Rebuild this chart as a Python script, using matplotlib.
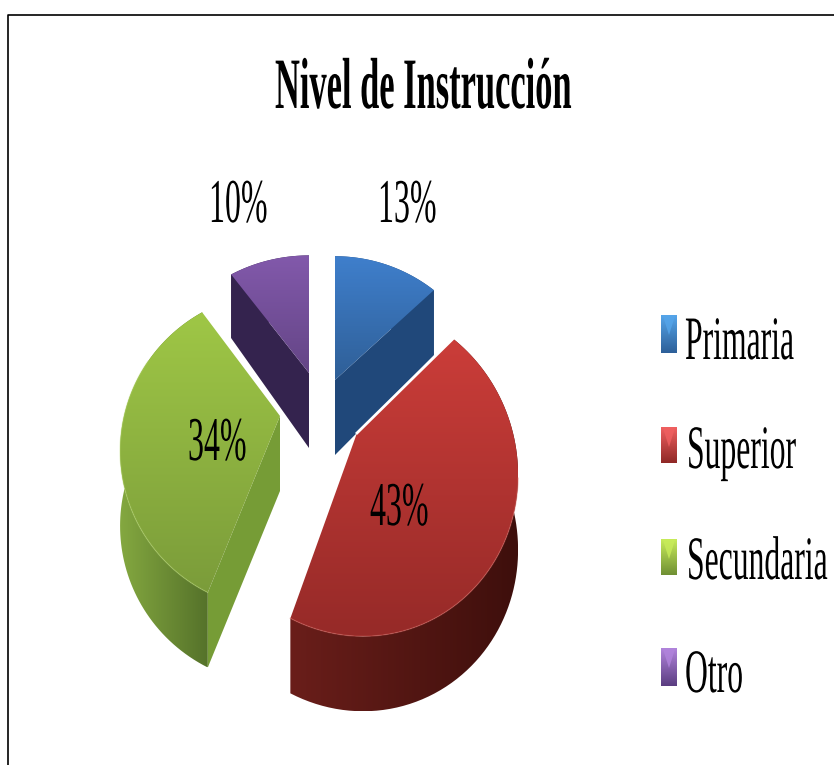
import numpy as np
import matplotlib
matplotlib.use('Agg')
import matplotlib.pyplot as plt
from matplotlib.colors import LinearSegmentedColormap
from matplotlib.patches import Polygon
from matplotlib.patheffects import AbstractPathEffect
from matplotlib.transforms import Affine2D

plt.rcParams['font.family'] = ['Liberation Serif', 'DejaVu Serif']

title = 'Nivel de Instrucción'
categories = ['Primaria', 'Superior', 'Secundaria', 'Otro']
values = [13, 43, 34, 10]

# slice looks, same order as categories
apex = [(335, 380), (357, 433), (280, 416), (309, 373)]
tall = [1.0, 1.05, 1.0, 0.95]
skew = [0, 0.03, 0, 0]
top_cols = [('#3f7fcc', '#2f5f97'), ('#cb3d39', '#962a28'),
            ('#9fc746', '#7b9c3a'), ('#8259ab', '#644586')]
wall_cols = [('#20487a', '#20487a'), ('#6a1e1a', '#3e0f0c'),
             ('#84a840', '#55722a'), ('#34234e', '#34234e')]
face_cols = ['#20487a', None, '#769c36', '#34234e']
face_edge = ['end', None, 'start', 'start']
key_cols = [('#55a5ea', '#2d5f98'), ('#f06060', '#8f2826'),
            ('#c8ec5a', '#6f8f34'), ('#b184dc', '#5a3d80')]
pct_pos = [(378, 222), (370, 525), (188, 460), (209, 222)]
key_y = [(315, 353), (427, 463), (539, 575), (648, 686)]
key_text = [(685, 359), (687, 468), (687, 579), (685, 692)]

rx, ry, persp, depth = 156, 151, 0.22, 75


class Stretch(AbstractPathEffect):
    # the original picture was squeezed, letters are tall and narrow
    def __init__(self, sy):
        super().__init__()
        self.sy = sy

    def draw_path(self, renderer, gc, tpath, affine, rgbFace=None):
        renderer.draw_path(gc, tpath, Affine2D().scale(1, self.sy) + affine, rgbFace)


def rim(i, a0, a1, n=80):
    t = np.radians(np.linspace(a0, a1, n))
    u, v = np.sin(t), np.cos(t)
    w = 1 + persp * v
    dy = -ry * tall[i] * v / w
    return np.column_stack([apex[i][0] + rx * u / w + skew[i] * dy, apex[i][1] + dy]), v


def drop(pts, v):
    return pts + np.column_stack([np.zeros(len(pts)), depth / (1 + persp * np.maximum(v, 0))])


def shade(verts, c0, c1, z, horizontal=False):
    poly = Polygon(verts, closed=True, fc='none', ec='none', zorder=z)
    ax.add_patch(poly)
    x0, y0 = verts.min(axis=0)
    x1, y1 = verts.max(axis=0)
    grad = np.linspace(0, 1, 256)
    grad = grad[None, :] if horizontal else grad[:, None]
    cmap = LinearSegmentedColormap.from_list('s', [c0, c1])
    im = ax.imshow(grad, extent=(x0, x1, y1, y0), cmap=cmap, aspect='auto',
                   interpolation='bilinear', zorder=z)
    im.set_clip_path(poly)


fig = plt.figure(figsize=(8.34, 7.65), dpi=100)
ax = fig.add_axes([0, 0, 1, 1])

ends = np.cumsum(values) / np.sum(values) * 360
starts = np.concatenate([[0], ends[:-1]])

z = 2
for i in [3, 0, 2, 1]:
    edge, v = rim(i, starts[i], ends[i])
    low = drop(edge, v)
    shade(np.vstack([edge, low[::-1]]), wall_cols[i][0], wall_cols[i][1], z, horizontal=True)
    z += 1
    if face_cols[i]:
        k = 0 if face_edge[i] == 'start' else -1
        base = np.array(apex[i], dtype=float)
        face = np.array([base, edge[k], low[k], base + [0, depth]])
        ax.add_patch(Polygon(face, closed=True, fc=face_cols[i], ec='none', zorder=z))
        z += 1
    outline = np.vstack([[apex[i]], edge])
    shade(outline, top_cols[i][0], top_cols[i][1], z)
    z += 1
    if i == 1:
        # white halo where red lies over the blue slice, soft light rim at the front
        ax.plot([apex[i][0], edge[0, 0]], [apex[i][1], edge[0, 1]], color='white', lw=2, zorder=z)
        ax.plot(edge[30:, 0], edge[30:, 1], color='#d8605a', lw=1, alpha=0.4, zorder=z)
    if i == 2:
        ax.plot(edge[:60, 0], edge[:60, 1], color='#b5d86a', lw=1, alpha=0.35, zorder=z)
    z += 1

ax.text(275, 108, title, fontsize=24.8, fontweight='bold', color='black',
        path_effects=[Stretch(2.1)], zorder=z)

for i, val in enumerate(values):
    ax.text(pct_pos[i][0], pct_pos[i][1], f'{val}%', fontsize=23, color='black',
            path_effects=[Stretch(1.95)], zorder=z)

for i, name in enumerate(categories):
    y0, y1 = key_y[i]
    box = np.array([(661, y0), (677, y0), (677, y1), (661, y1)], dtype=float)
    shade(box, key_cols[i][0], key_cols[i][1], z)
    ax.add_patch(Polygon([(663, y0 + 1), (675, y0 + 1), (669, y0 + 20)], closed=True,
                         fc=key_cols[i][0], ec='none', alpha=0.8, zorder=z + 1))
    ax.text(key_text[i][0], key_text[i][1], name, fontsize=22.8, color='black',
            path_effects=[Stretch(1.95)], zorder=z)

# frame of the pasted picture, only top and left show
ax.plot([8, 8, 834], [765, 15, 15], color='black', lw=1.2, zorder=z)

ax.set_xlim(0, 834)
ax.set_ylim(765, 0)
ax.axis('off')
fig.savefig('out.png', dpi=100, facecolor='white')
